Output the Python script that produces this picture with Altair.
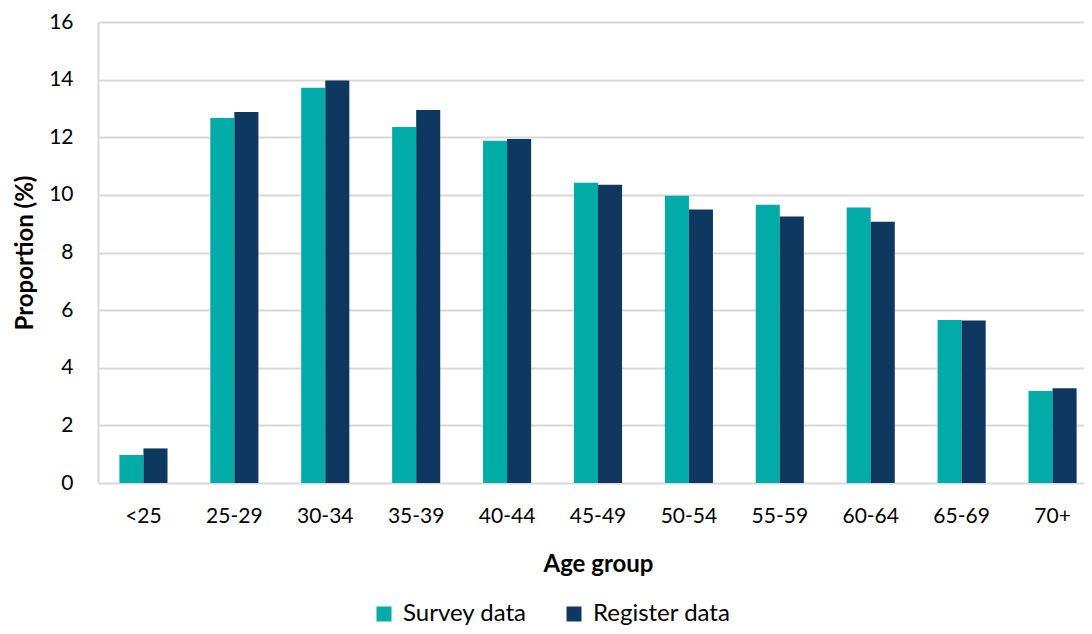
import altair as alt
import pandas as pd

age_groups = ["<25", "25-29", "30-34", "35-39", "40-44", "45-49", "50-54", "55-59", "60-64", "65-69", "70+"]
survey = [0.97, 12.67, 13.72, 12.36, 11.88, 10.42, 9.97, 9.66, 9.56, 5.66, 3.19]
register = [1.20, 12.88, 13.97, 12.95, 11.94, 10.35, 9.49, 9.25, 9.07, 5.64, 3.29]
series = ["Survey data", "Register data"]
colors = ["#00ABA8", "#0F3861"]

rows = []
for i, g in enumerate(age_groups):
    rows.append({"age": g, "series": series[0], "value": survey[i]})
    rows.append({"age": g, "series": series[1], "value": register[i]})
df = pd.DataFrame(rows)

FONT = "Lato"

chart = alt.Chart(df).mark_bar().encode(
    x=alt.X("age:N", sort=age_groups,
            scale=alt.Scale(paddingInner=0, paddingOuter=0, range=[0, 1000]),
            axis=alt.Axis(title="Age group", labelAngle=0, ticks=False, domain=False,
                          labelPadding=22, titlePadding=26, grid=False)),
    xOffset=alt.XOffset("series:N", sort=series,
                        scale=alt.Scale(paddingInner=0, paddingOuter=0.89)),
    y=alt.Y("value:Q", scale=alt.Scale(domain=[0, 16], nice=False),
            axis=alt.Axis(title="Proportion (%)", values=[0, 2, 4, 6, 8, 10, 12, 14, 16],
                          ticks=False, labelPadding=25, titlePadding=11,
                          gridColor="#d9d9d9", gridWidth=2,
                          domainColor="#d9d9d9", domainWidth=2)),
    color=alt.Color("series:N", sort=series,
                    scale=alt.Scale(domain=series, range=colors),
                    legend=alt.Legend(title=None, orient="none", direction="horizontal",
                                      legendX=274, legendY=580,
                                      symbolType="square", symbolSize=225,
                                      symbolStrokeWidth=0, labelOffset=7,
                                      columnPadding=35, labelFontSize=24,
                                      labelFont=FONT, labelColor="#000000")),
).properties(
    width=984, height=461,
    autosize=alt.AutoSizeParams(type="none"),
    padding={"left": 90, "top": 14, "right": 2, "bottom": 143},
).configure_axis(
    labelFont=FONT, titleFont=FONT, labelFontSize=21, titleFontSize=24,
    labelColor="#000000", titleColor="#000000", titleFontWeight="bold",
).configure_view(stroke=None)

chart.save("out.html", embed_options={"renderer": "svg", "actions": False})
